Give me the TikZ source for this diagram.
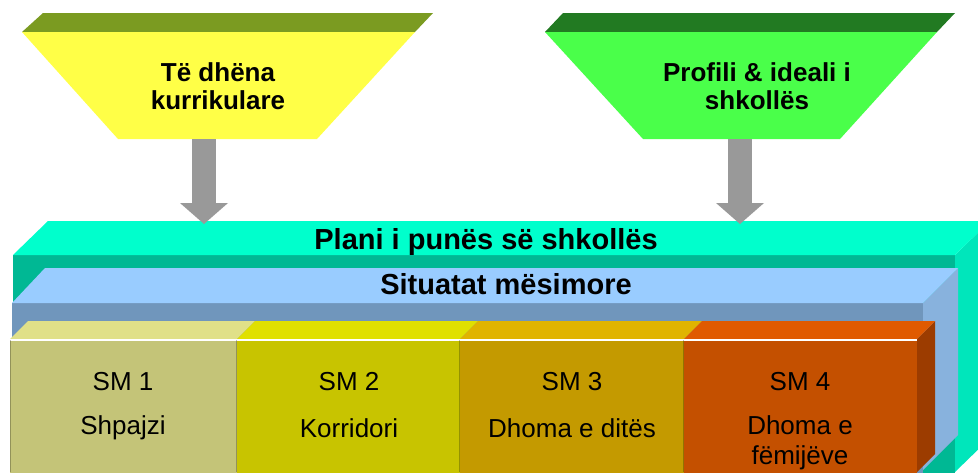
\documentclass[tikz,border=0pt]{standalone}
\usepackage{fontspec}
\setmainfont{Liberation Sans}
\usetikzlibrary{arrows.meta}
\definecolor{olivetop}{HTML}{7B9B21}
\definecolor{yellowface}{HTML}{FFFF47}
\definecolor{greentop}{HTML}{227A22}
\definecolor{greenface}{HTML}{4AFF4A}
\definecolor{arrowgray}{HTML}{999999}
\definecolor{planTop}{HTML}{00FFCC}
\definecolor{planFront}{HTML}{00B894}
\definecolor{planSide}{HTML}{00E6BB}
\definecolor{situTop}{HTML}{99CCFF}
\definecolor{situFront}{HTML}{7096BC}
\definecolor{situSide}{HTML}{88B2DD}
\definecolor{smAtop}{HTML}{E0E088}
\definecolor{smAfront}{HTML}{C4C478}
\definecolor{smBtop}{HTML}{E0E000}
\definecolor{smBfront}{HTML}{C8C400}
\definecolor{smCtop}{HTML}{E0B400}
\definecolor{smCfront}{HTML}{C49A00}
\definecolor{smDtop}{HTML}{E05A00}
\definecolor{smDfront}{HTML}{C45000}
\definecolor{smDside}{HTML}{9C3C00}
\tikzstyle{headtext}=[font=\bfseries\fontsize{26}{28}\selectfont, align=center, inner sep=0pt]
\tikzstyle{bandtext}=[font=\bfseries\fontsize{29}{32}\selectfont, inner sep=0pt]
\tikzstyle{smtext}=[font=\fontsize{26}{30}\selectfont, align=center, inner sep=0pt]
\tikzstyle{smedge}=[line width=1.5pt, opacity=0.25, draw=black]
\tikzstyle{feed}=[draw=arrowgray, line width=24pt, -{Triangle[width=48pt,length=21pt,line width=0pt]}]

\begin{document}
\begin{tikzpicture}[x=1pt,y=-1pt]
\useasboundingbox (0,0) rectangle (978,472);
\clip (0,0) rectangle (978,472);
% input trapezoids
\fill[olivetop] (43,13) -- (433,13) -- (415,32) -- (22,32) -- cycle;
\fill[yellowface] (22,32) -- (415,32) -- (317,139) -- (118,139) -- cycle;
\fill[greentop] (563,13) -- (955,13) -- (937,32) -- (545,32) -- cycle;
\fill[greenface] (545,32) -- (937,32) -- (840,139) -- (643,139) -- cycle;
% plan box
\fill[planSide] (955,255) -- (990,221) -- (990,438) -- (955,472) -- cycle;
\fill[planFront] (13,255) rectangle (955,480);
\fill[planTop] (13,255) -- (48,221) -- (990,221) -- (955,255) -- cycle;
% situations box
\fill[situFront] (12,303) rectangle (923,480);
\fill[situSide] (923,303) -- (958,268) -- (958,435) -- (923,470) -- cycle;
\fill[situTop] (12,303) -- (45,268) -- (958,268) -- (923,303) -- cycle;
% SM boxes
\fill[smDside] (917,339) -- (935,321) -- (935,454) -- (917,472) -- cycle;
\fill[smAfront] (10,339) rectangle (237,480);
\fill[smBfront] (237,339) rectangle (460,480);
\fill[smCfront] (460,339) rectangle (684,480);
\fill[smDfront] (684,339) rectangle (917,480);
\fill[smAtop] (10,339) -- (28,321) -- (255,321) -- (237,339) -- cycle;
\fill[smBtop] (237,339) -- (255,321) -- (478,321) -- (460,339) -- cycle;
\fill[smCtop] (460,339) -- (478,321) -- (702,321) -- (684,339) -- cycle;
\fill[smDtop] (684,339) -- (702,321) -- (935,321) -- (917,339) -- cycle;
\draw[white, line width=2pt] (10,339.5) -- (917,339.5);
\draw[smedge] (10.5,340) -- (10.5,472);
\draw[smedge] (236.5,340) -- (236.5,472);
\draw[smedge] (459.5,340) -- (459.5,472);
\draw[smedge] (683.5,340) -- (683.5,472);
% texts
\node[headtext] (data) at (218,86) {Të dhëna\\kurrikulare};
\node[headtext] (profile) at (757,86) {Profili \& ideali i\\shkollës};
\node[bandtext] (plan) at (486,242) {Plani i punës së shkollës};
\node[bandtext] (situ) at (506,284) {Situatat mësimore};
\node[smtext] (sm1) at (123,382) {SM 1};
\node[smtext] (sm2) at (349,382) {SM 2};
\node[smtext] (sm3) at (572,382) {SM 3};
\node[smtext] (sm4) at (800,382) {SM 4};
\node[smtext] (room1) at (123,428) {Shpajzi};
\node[smtext] (room2) at (349,428) {Korridori};
\node[smtext] (room3) at (572,428) {Dhoma e ditës};
\node[smtext] (room4) at (800,443) {Dhoma e\\fëmijëve};
% arrows
\coordinate (dataBot) at (204,139);
\coordinate (profileBot) at (740,139);
\coordinate (planL) at (204,224);
\coordinate (planR) at (740,224);
\draw[feed] (dataBot) -- (planL);
\draw[feed] (profileBot) -- (planR);
\end{tikzpicture}
\end{document}
